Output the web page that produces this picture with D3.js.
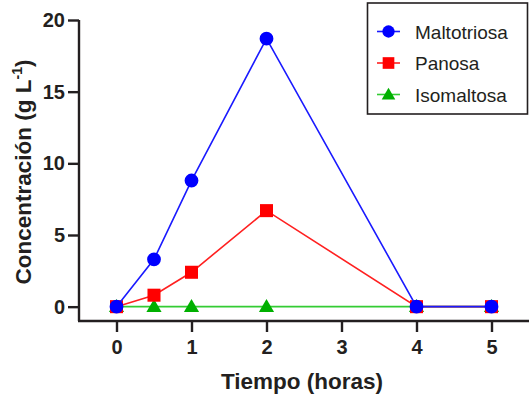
<!DOCTYPE html>
<html>
<head>
<meta charset="utf-8">
<script src="https://cdn.jsdelivr.net/npm/d3@7/dist/d3.min.js"></script>
<style>
  html, body { margin: 0; padding: 0; background: #fff; }
  svg { display: block; font-family: "Liberation Sans", Arial, sans-serif; }
</style>
</head>
<body>
<svg id="chart" width="529" height="397"></svg>
<script>
// Sampling times (hours)
const times = [0, 0.5, 1, 2, 4, 5];
// Concentrations (g/L) per sugar
const maltotriosa = [0, 3.3, 8.8, 18.7, 0, 0];
const panosa = [0, 0.8, 2.4, 6.7, 0, 0];
const isomaltosa = [0, 0, 0, 0, 0, 0];
const seriesNames = ["Maltotriosa", "Panosa", "Isomaltosa"];
const xTicks = [0, 1, 2, 3, 4, 5];
const yTicks = [0, 5, 10, 15, 20];

const svg = d3.select("#chart");
const ink = "#231f20";

const x = d3.scaleLinear().domain([-0.5, 5.5]).range([79, 529]);
const y = d3.scaleLinear().domain([-1, 20]).range([321, 20]);

const series = [
  { name: seriesNames[0], values: maltotriosa, line: "#1a1aff", fill: "#0000ff", shape: d3.symbolCircle, size: 150 },
  { name: seriesNames[1], values: panosa, line: "#ff2020", fill: "#ff0000", shape: d3.symbolSquare, size: 170 },
  { name: seriesNames[2], values: isomaltosa, line: "#33cc33", fill: "#00b000", shape: d3.symbolTriangle, size: 100 }
];

// Axes
const xAxis = svg.append("g")
  .attr("transform", `translate(0,${y(-1)})`)
  .call(d3.axisBottom(x).tickValues(xTicks).tickFormat(d3.format("d")).tickSize(11).tickSizeOuter(0).tickPadding(8));
const yAxis = svg.append("g")
  .attr("transform", `translate(${x(-0.5)},0)`)
  .call(d3.axisLeft(y).tickValues(yTicks).tickFormat(d3.format("d")).tickSize(11).tickSizeOuter(0).tickPadding(3));

[xAxis, yAxis].forEach(g => {
  g.select(".domain").attr("stroke", ink).attr("stroke-width", 2.4);
  g.selectAll(".tick line").attr("stroke", ink).attr("stroke-width", 2.4);
  g.selectAll(".tick text").attr("fill", ink).attr("font-size", 20).attr("font-weight", "bold")
    .attr("font-family", "'Liberation Sans', Arial, sans-serif");
});
xAxis.select(".domain").attr("d", `M${x(-0.5) - 1},0H${x(5.5)}`);
yAxis.select(".domain").attr("d", `M0,${y(20)}V${y(-1)}`);

// Axis titles
svg.append("text")
  .attr("x", 302).attr("y", 389)
  .attr("text-anchor", "middle")
  .attr("font-size", 22.5).attr("font-weight", "bold").attr("fill", ink)
  .text("Tiempo (horas)");

const yTitle = svg.append("text")
  .attr("transform", "translate(31,172) rotate(-90)")
  .attr("text-anchor", "middle")
  .attr("font-size", 22.5).attr("font-weight", "bold").attr("fill", ink);
yTitle.append("tspan").text("Concentración (g L");
yTitle.append("tspan").attr("font-size", 14).attr("dy", -9).text("-1");
yTitle.append("tspan").attr("dy", 9).text(")");

// Lines and markers (isomaltosa underneath, maltotriosa on top)
const line = d3.line().x((d, i) => x(times[i])).y(d => y(d));
series.slice().reverse().forEach(s => {
  svg.append("path")
    .datum(s.values)
    .attr("d", line)
    .attr("fill", "none")
    .attr("stroke", s.line)
    .attr("stroke-width", 1.6);
  svg.append("g").selectAll("path")
    .data(s.values)
    .join("path")
    .attr("transform", (d, i) => `translate(${x(times[i])},${y(d) + (s.shape === d3.symbolTriangle ? 1 : 0)})`)
    .attr("d", d3.symbol().type(s.shape).size(s.size))
    .attr("fill", s.fill);
});

// Legend
const legend = svg.append("g");
legend.append("rect")
  .attr("x", 367.5).attr("y", 3).attr("width", 160).attr("height", 111)
  .attr("fill", "#fff").attr("stroke", ink).attr("stroke-width", 1.6);
series.forEach((s, i) => {
  const cy = 31.5 + i * 31.5;
  const row = legend.append("g");
  row.append("line")
    .attr("x1", 377).attr("x2", 400).attr("y1", cy).attr("y2", cy)
    .attr("stroke", s.line).attr("stroke-width", 1.6);
  row.append("path")
    .attr("transform", `translate(388.5,${cy + (s.shape === d3.symbolTriangle ? 1 : 0)})`)
    .attr("d", d3.symbol().type(s.shape).size(s.size * 0.8))
    .attr("fill", s.fill);
  row.append("text")
    .attr("x", 415).attr("y", cy + 7)
    .attr("font-size", 19).attr("fill", ink)
    .text(s.name);
});
</script>
</body>
</html>
